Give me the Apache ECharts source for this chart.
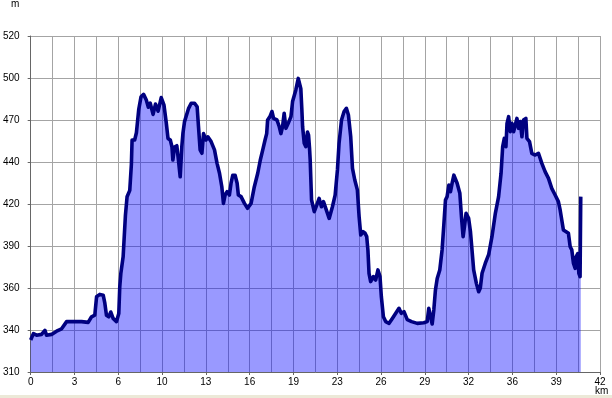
<!DOCTYPE html>
<html>
<head>
<meta charset="utf-8">
<script src="https://cdn.jsdelivr.net/npm/echarts@6/dist/echarts.min.js"></script>
<style>
  html, body { margin: 0; padding: 0; background: #fff; }
  #chart { width: 612px; height: 398px; }
</style>
</head>
<body>
<div id="chart"></div>
<script>
// distance along the track (km)
const distKm = [
  0.0, 0.2, 0.44, 0.8, 1.05, 1.17, 1.54, 1.91, 2.28, 2.65, 3.02, 3.75, 4.24, 4.49, 4.73, 4.86,
  5.1, 5.35, 5.47, 5.59, 5.76, 5.91, 6.08, 6.33, 6.5, 6.57, 6.65, 6.82, 6.99, 7.11, 7.31, 7.43,
  7.48, 7.67, 7.8, 7.97, 8.14, 8.33, 8.53, 8.68, 8.82, 9.03, 9.21, 9.4, 9.63, 9.83, 10.0, 10.13,
  10.3, 10.42, 10.49, 10.61, 10.78, 10.9, 11.03, 11.15, 11.23, 11.35, 11.48, 11.65, 11.84, 12.09,
  12.28, 12.38, 12.5, 12.63, 12.75, 12.94, 13.07, 13.31, 13.56, 13.75, 13.93, 14.1, 14.22, 14.34,
  14.49, 14.66, 14.78, 14.91, 15.08, 15.23, 15.32, 15.52, 15.77, 16.0, 16.26, 16.5, 16.75, 16.94,
  17.12, 17.29, 17.41, 17.48, 17.65, 17.8, 17.92, 18.17, 18.34, 18.46, 18.58, 18.7, 18.83, 19.0,
  19.2, 19.32, 19.44, 19.56, 19.74, 19.86, 19.93, 20.0, 20.06, 20.18, 20.3, 20.42, 20.5, 20.57,
  20.62, 20.72, 20.92, 21.11, 21.28, 21.45, 21.6, 21.77, 22.02, 22.26, 22.46, 22.63, 22.75, 22.93,
  23.12, 23.29, 23.44, 23.61, 23.74, 23.91, 24.1, 24.23, 24.35, 24.52, 24.67, 24.79, 24.88, 24.96,
  25.08, 25.28, 25.45, 25.62, 25.77, 25.87, 26.02, 26.19, 26.44, 26.68, 26.93, 27.17, 27.34, 27.54,
  27.78, 28.1, 28.52, 29.0, 29.25, 29.37, 29.5, 29.62, 29.74, 29.86, 29.99, 30.18, 30.35, 30.47,
  30.6, 30.72, 30.85, 30.97, 31.09, 31.22, 31.34, 31.46, 31.66, 31.78, 31.9, 32.0, 32.12, 32.31,
  32.44, 32.56, 32.68, 32.88, 33.05, 33.17, 33.3, 33.54, 33.79, 34.03, 34.28, 34.52, 34.7, 34.82,
  34.94, 35.06, 35.14, 35.26, 35.38, 35.5, 35.63, 35.75, 35.87, 35.99, 36.12, 36.24, 36.36, 36.53,
  36.61, 36.8, 36.97, 37.22, 37.46, 37.71, 37.95, 38.2, 38.44, 38.69, 38.93, 39.06, 39.18, 39.3,
  39.5, 39.67, 39.8, 39.92, 40.04, 40.17, 40.24, 40.36, 40.44, 40.53, 40.58
];

// elevation (m)
const elevM = [
  330, 334, 333, 333.5, 336, 333, 333.5, 335.5, 337, 341.5, 341.5, 341.5, 341, 344.5, 345.5, 357,
  358.5, 358, 353, 345.5, 344.5, 347.5, 343.5, 341.5, 346.5, 363, 371.5, 382, 408, 419.5, 423.5, 440,
  455, 455, 459.5, 474, 482, 483.5, 480, 475.5, 478, 471, 477.5, 473, 481.5, 477, 466, 456,
  455, 450.8, 442.5, 450.6, 451.4, 442.5, 432, 450.8, 459, 466.5, 466.5, 474.8, 478, 478,
  475.8, 463.3, 448.8, 446.7, 459, 455, 457, 454, 448.8, 440.4, 434.2, 425.8, 415.4, 420.6,
  422.7, 420.6, 428, 433, 433, 428, 420.6, 419.6, 415.4, 412.3, 415.4, 425.8, 434.2, 442.5,
  448.8, 455, 459, 467.5, 469.6, 472.8, 468.5, 467.5, 463.3, 459, 463.3, 471.7, 462.3, 465.4,
  469.6, 479, 480, 486.3, 493.5, 492.5, 487, 475, 463.3, 453, 450.8, 460, 458, 450,
  442.5, 417.5, 410.2, 414.4, 418.5, 413.3, 416.5, 412.3, 406, 413.3, 420.6, 436.3, 453, 467.5,
  472.8, 474.8, 470.6, 457, 437.3, 430, 423.8, 407, 395.6, 397.7, 396.7, 394.6, 386, 371.7,
  366.5, 369.6, 367.5, 373.8, 369.6, 357, 344.6, 341.5, 340.4, 343.5, 346.7, 349.8, 346.7, 347.7,
  342.7, 341.5, 340.4, 340.8, 341.5, 349.8, 344.6, 340, 348.8, 361.3, 368.5, 373.8, 386.3, 400.8,
  417.5, 419.6, 426.9, 422.7, 428, 433, 434.2, 428, 421.7, 407, 394.6, 400.8, 409.2, 406,
  398, 386, 373.8, 365.4, 360.2, 362.5, 371.7, 378, 383.5, 394.6, 409.2, 419.6, 434.2, 450.8,
  456, 450.8, 465.4, 469.6, 460.2, 465.4, 460.2, 464.4, 468.5, 462.3, 466.5, 457, 467.5, 468.5,
  456, 454, 446.7, 445.6, 446.7, 440.4, 435.2, 431, 424.8, 420.6, 416.5, 411.3, 405, 398.8,
  397.7, 396.7, 388.3, 386.3, 378, 374.8, 382, 384, 371.7, 369.6, 419.6
];

// tick labels as printed on the chart
const xTickLabels = ['0', '3', '6', '10', '13', '16', '19', '23', '26', '29', '32', '36', '39', '42'];
const yTickLabels = ['310', '340', '360', '390', '420', '440', '470', '500', '520'];

const xMax = 42;
const yMin = 310;
const yMax = 520;

const chart = echarts.init(document.getElementById('chart'), null, { renderer: 'canvas' });

const seriesData = distKm.map((d, i) => [d, elevM[i]]);
const xLabelStep = xMax / (xTickLabels.length - 1);
const xLabelValues = xTickLabels.map((t, i) => i * xLabelStep);

const labelFont = { fontFamily: 'Liberation Sans, Arial, sans-serif', fontSize: 10, color: '#000' };
const gridLine = { show: true, lineStyle: { color: '#a4a4a4', width: 1 } };

chart.setOption({
    animation: false,
    backgroundColor: '#fff',
    grid: { left: 29, right: 12, top: 36, bottom: 26, containLabel: false },
    xAxis: [
        {
            // distance axis, carries the data
            type: 'value',
            min: 0,
            max: xMax,
            splitLine: { show: false },
            axisLine: { show: true, onZero: false, lineStyle: { color: '#666', width: 1 } },
            axisTick: { show: true, length: 3, customValues: xLabelValues, lineStyle: { color: '#666' } },
            axisLabel: {
                ...labelFont,
                margin: 5,
                customValues: xLabelValues,
                formatter: (v) => xTickLabels[Math.round(v / xLabelStep)]
            }
        },
        {
            // vertical grid lines (two per labelled step)
            type: 'value',
            min: 0,
            max: (xTickLabels.length - 1) * 2,
            interval: 1,
            axisLine: { show: false },
            axisTick: { show: false },
            axisLabel: { show: false },
            splitLine: gridLine
        }
    ],
    yAxis: [
        {
            // label / grid axis
            type: 'value',
            position: 'left',
            min: 0,
            max: yTickLabels.length - 1,
            interval: 1,
            axisLine: { show: true, lineStyle: { color: '#666', width: 1 } },
            axisTick: { show: true, length: 3, lineStyle: { color: '#666' } },
            axisLabel: {
                ...labelFont,
                margin: 11,
                formatter: (v) => yTickLabels[v]
            },
            splitLine: gridLine
        },
        {
            // elevation axis, carries the data
            type: 'value',
            show: false,
            min: yMin,
            max: yMax
        }
    ],
    series: [{
        type: 'line',
        xAxisIndex: 0,
        yAxisIndex: 1,
        data: seriesData,
        showSymbol: false,
        smooth: false,
        lineStyle: { color: '#000080', width: 3.6, join: 'round' },
        areaStyle: { color: 'rgba(0, 0, 255, 0.4)', opacity: 1, origin: 'start' }
    }],
    graphic: [
        {
            type: 'text', left: 11, top: -1,
            style: { text: 'm', font: '10px Liberation Sans, Arial, sans-serif', fill: '#000' }
        },
        {
            type: 'text', left: 595, top: 386,
            style: { text: 'km', font: '10px Liberation Sans, Arial, sans-serif', fill: '#000' }
        },
        {
            type: 'rect', left: 0, top: 395, shape: { width: 612, height: 3 },
            style: { fill: '#ece9d8' }
        }
    ]
});
</script>
</body>
</html>
